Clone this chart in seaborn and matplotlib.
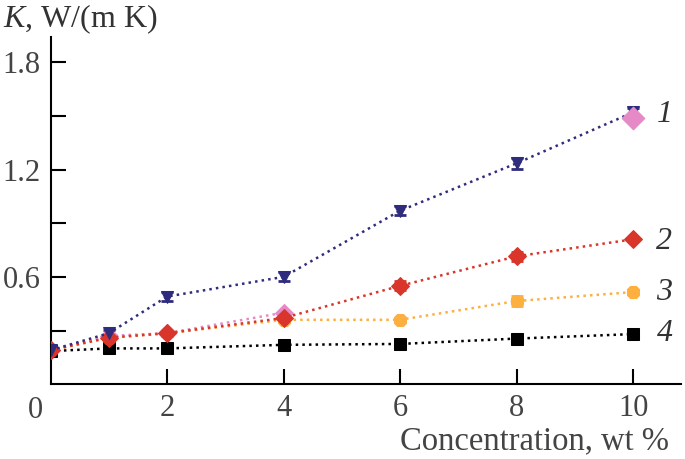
import numpy as np
import pandas as pd
import matplotlib
matplotlib.use("Agg")
import matplotlib.pyplot as plt
import seaborn as sns

# concentration, wt %
conc = [0, 1, 2, 4, 6, 8, 10]

# thermal conductivity K, W/(m K) for each curve
k_1 = [0.19, 0.285, 0.49, 0.60, 0.97, 1.235, 1.52]
k_1_err = [0.0, 0.02, 0.025, 0.025, 0.025, 0.03, 0.025]
k_2 = [0.19, 0.26, 0.285, 0.37, 0.55, 0.715, 0.81]
k_2_err = [0.0, 0.015, 0.015, 0.015, 0.025, 0.025, 0.0]
k_3 = [0.19, 0.26, 0.285, 0.36, 0.36, 0.465, 0.515]
k_3_err = [0.0, 0.0, 0.0, 0.0, 0.0, 0.03, 0.0]
k_4 = [0.185, 0.20, 0.20, 0.22, 0.225, 0.255, 0.28]

# pink points (overlapping curve 1/2)
pink_conc = [0, 1, 2, 4]
pink_k = [0.19, 0.27, 0.285, 0.40]
pink_end_conc = [10]
pink_end_k = [1.49]

curve_labels = ["1", "2", "3", "4"]
label_k = [1.51, 0.80, 0.51, 0.285]

sns.set_style("ticks")
plt.rcParams['font.family'] = ['Liberation Serif', 'DejaVu Serif']
plt.rcParams['mathtext.fontset'] = 'custom'
plt.rcParams['mathtext.it'] = 'Liberation Serif:italic'
plt.rcParams['mathtext.rm'] = 'Liberation Serif'

fig = plt.figure(figsize=(6.85, 4.59), dpi=100)
ax = fig.add_axes([0.074, 0.163, 0.92, 0.756])

series = [
    (k_4, None, "black", "s", 9),
    (k_3, k_3_err, "#fdb03f", "8", 10),
    (k_2, k_2_err, "#d9352b", "D", 9),
    (k_1, k_1_err, "#2f2c7e", "v", 9),
]

for vals, err, col, mk, ms in series:
    df = pd.DataFrame({"conc": conc, "k": vals})
    if err is not None:
        ax.errorbar(conc, vals, yerr=err, fmt="none", ecolor=col,
                    elinewidth=1.5, capsize=4, capthick=2, zorder=2)
    sns.lineplot(data=df, x="conc", y="k", ax=ax, color=col, linestyle=":",
                 linewidth=1.8, marker=mk, markersize=ms,
                 markeredgecolor=col, zorder=3)

pink = "#e58ac6"
sns.lineplot(x=pink_conc, y=pink_k, ax=ax, color=pink, linestyle=":",
             linewidth=1.8, marker="D", markersize=9, markeredgecolor=pink,
             zorder=2.5)
sns.scatterplot(x=pink_end_conc, y=pink_end_k, ax=ax, color=pink, marker="D",
                s=130, edgecolor=pink, zorder=4)

ax.set_xlim(0, 10.82)
ax.set_ylim(0, 1.94)
ax.set_xticks([2, 4, 6, 8, 10])
ax.set_yticks([0.6, 1.2, 1.8])
ax.set_yticks([0.3, 0.9, 1.5], minor=True)
ax.tick_params(axis="both", which="both", direction="in", length=11,
               width=1.5, labelsize=22, labelcolor="#444444", color="black")
ax.tick_params(axis="x", pad=7)
ax.tick_params(axis="y", pad=7)
ax.set_xticklabels(["2", "4", "6", "8", "10"])
ax.set_yticklabels(["0.6", "1.2", "1.8"])
for s in ["left", "bottom"]:
    ax.spines[s].set_linewidth(1.5)
    ax.spines[s].set_color("black")
sns.despine(ax=ax)
ax.set_xlabel("")
ax.set_ylabel("")

# corner zero
ax.annotate("0", xy=(0, 0), xycoords="data", xytext=(-11, -19),
            textcoords="offset points", fontsize=22, color="#444444",
            ha="center", va="center", annotation_clip=False)

for lab, yv in zip(curve_labels, label_k):
    ax.text(10.4, yv, lab, fontsize=23, style="italic", color="#333333",
            ha="left", va="center")

fig.text(0.004, 0.995, r"$K$, W/(m K)", fontsize=23, color="#333333",
         ha="left", va="top")
fig.text(0.976, 0.04, "Concentration, wt %", fontsize=23.5, color="#444444",
         ha="right", va="center")

fig.savefig("out.png", dpi=100)
